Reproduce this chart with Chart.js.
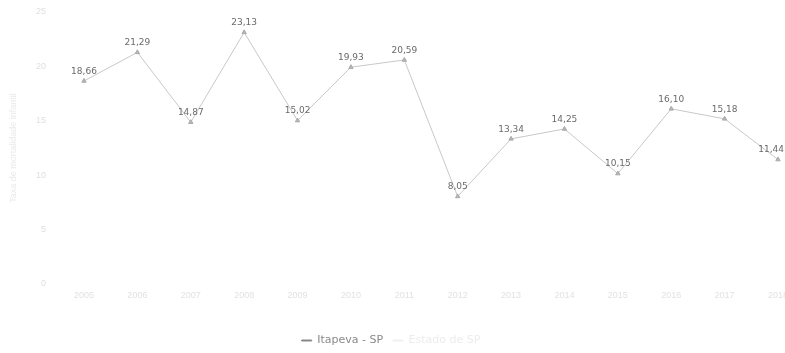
<!DOCTYPE html>
<html>
<head>
<meta charset="utf-8">
<script src="https://cdn.jsdelivr.net/npm/chart.js@4/dist/chart.umd.min.js"></script>
<style>
html,body{margin:0;padding:0;background:#fff;}
#wrap{width:785px;height:353px;}
</style>
</head>
<body>
<div id="wrap"><canvas id="c" width="785" height="353"></canvas></div>
<script>
const categories = ['2005','2006','2007','2008','2009','2010','2011','2012','2013','2014','2015','2016','2017','2018'];
const itapeva = [18.66,21.29,14.87,23.13,15.02,19.93,20.59,8.05,13.34,14.25,10.15,16.10,15.18,11.44];
const seriesNames = ['Itapeva - SP','Estado de SP'];
const yTicks = [0,5,10,15,20,25];

const labelPlugin = {
  id:'vals',
  afterDatasetsDraw(chart){
    const ctx = chart.ctx;
    const meta = chart.getDatasetMeta(0);
    ctx.save();
    ctx.font = '9px "DejaVu Sans", sans-serif';
    ctx.fillStyle = '#6a6a6a';
    ctx.textAlign = 'center';
    ctx.textBaseline = 'bottom';
    meta.data.forEach((pt,i)=>{
      const txt = itapeva[i].toFixed(2).replace('.',',');
      const w = ctx.measureText(txt).width;
      let x = pt.x;
      if (x + w/2 > chart.width - 1) x = chart.width - 1 - w/2;
      ctx.fillText(txt, x, pt.y - 5);
    });
    ctx.restore();
  }
};

new Chart(document.getElementById('c'), {
  type:'line',
  data:{
    labels:categories,
    datasets:[
      {label:seriesNames[0], data:itapeva, borderColor:'#c8c8c8', backgroundColor:'#b0b0b0',
       borderWidth:1, pointStyle:'triangle', pointRadius:2.5, pointBorderColor:'#a8a8a8', pointBackgroundColor:'#b8b8b8', tension:0},
      {label:seriesNames[1], data:[], borderColor:'#f4f4f4', backgroundColor:'#f4f4f4', borderWidth:1}
    ]
  },
  options:{
    responsive:false, animation:false,
    layout:{padding:{top:12,right:7,left:4,bottom:-3}},
    plugins:{
      legend:{position:'bottom', labels:{
        font:{size:11, family:'"DejaVu Sans", sans-serif'}, boxWidth:10, boxHeight:1, padding:10,
        generateLabels(chart){
          return chart.data.datasets.map((d,i)=>({
            text:d.label, fillStyle:i===0?'#888':'#f0f0f0', strokeStyle:i===0?'#888':'#f0f0f0',
            lineWidth:1, fontColor:i===0?'#8a8a8a':'#ececec', datasetIndex:i, hidden:false
          }));
        }
      }},
      tooltip:{enabled:false}
    },
    scales:{
      x:{offset:false, grid:{display:false, drawTicks:false}, border:{display:false},
         afterFit(s){ s.paddingRight = 0; s.paddingLeft = 0; s.height = 41; },
         ticks:{color:'#e2e2e2', font:{size:9}, maxRotation:0, padding:6}},
      y:{min:0, max:25, grid:{display:false}, border:{display:false},
         afterBuildTicks(s){ s.ticks = yTicks.map(v=>({value:v})); },
         afterFit(s){ s.width = 80; s.paddingTop = 0; s.paddingBottom = 0; },
         ticks:{color:'#e0e0e0', font:{size:9}, padding:30},
         title:{display:true, text:'Taxa de mortalidade infantil', color:'#eaeaea', font:{size:9}}}
    }
  },
  plugins:[labelPlugin]
});
</script>
</body>
</html>
